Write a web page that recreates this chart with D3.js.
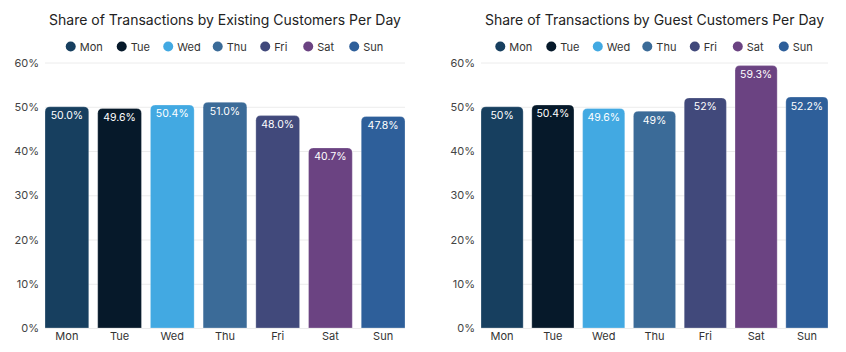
<!DOCTYPE html>
<html>
<head>
<meta charset="utf-8">
<script src="https://cdn.jsdelivr.net/npm/d3@7"></script>
<style>
  body { margin: 0; background: #fff; }
  text { font-family: Inter, "Liberation Sans", sans-serif; }
</style>
</head>
<body>
<div id="chart"></div>
<script>
var days = ["Mon", "Tue", "Wed", "Thu", "Fri", "Sat", "Sun"];
var dayColors = ["#173f5f", "#06192a", "#42a9e2", "#3b6b98", "#41497b", "#6b4382", "#2e5f9a"];
var existingShare = [50.0, 49.6, 50.4, 51.0, 48.0, 40.7, 47.8];
var guestShare = [50, 50.4, 49.6, 49, 52, 59.3, 52.2];
var yTicks = [0, 10, 20, 30, 40, 50, 60];

var w = 846;
var h = 352;

var svg = d3.select("#chart")
    .append("svg")
    .attr("width", w)
    .attr("height", h);

var color = d3.scaleOrdinal().domain(days).range(dayColors);

function drawChart(opts) {
    var g = svg.append("g");

    var xScale = d3.scaleBand()
        .domain(days)
        .range([opts.left, opts.right])
        .paddingInner(0.17)
        .paddingOuter(0);

    var yScale = d3.scaleLinear()
        .domain([0, 60])
        .range([328, 62.5]);

    // gridlines
    g.selectAll(".grid")
        .data(yTicks)
        .enter()
        .append("line")
        .attr("x1", opts.left)
        .attr("x2", opts.right)
        .attr("y1", function(d) { return yScale(d) + 0.5; })
        .attr("y2", function(d) { return yScale(d) + 0.5; })
        .attr("stroke", "#ececec")
        .attr("stroke-width", 1);

    // y axis labels
    var yAxis = d3.axisLeft(yScale)
        .tickValues(yTicks)
        .tickSize(0)
        .tickPadding(0)
        .tickFormat(function(d) { return d + "%"; });

    var ya = g.append("g")
        .attr("transform", "translate(" + opts.yLabelX + ",0)")
        .call(yAxis);
    ya.select(".domain").remove();
    ya.selectAll("text")
        .attr("font-size", "11px")
        .attr("fill", "#444")
        .style("font-family", "Inter, 'Liberation Sans', sans-serif");

    // x axis labels
    var xAxis = d3.axisBottom(xScale).tickSize(0).tickPadding(4);
    var xa = g.append("g")
        .attr("transform", "translate(0,328)")
        .call(xAxis);
    xa.select(".domain").remove();
    xa.selectAll("text")
        .attr("font-size", "11px")
        .attr("fill", "#333")
        .style("font-family", "Inter, 'Liberation Sans', sans-serif");

    // bars with rounded tops
    var r = 5;
    g.selectAll(".bar")
        .data(opts.values)
        .enter()
        .append("path")
        .attr("class", "bar")
        .attr("fill", function(d, i) { return color(days[i]); })
        .attr("stroke", "rgba(255,255,255,0.25)")
        .attr("stroke-width", 1)
        .attr("d", function(d, i) {
            var x0 = xScale(days[i]);
            var x1 = x0 + xScale.bandwidth();
            var y0 = yScale(d);
            var y1 = yScale(0);
            return "M" + x0 + "," + y1 +
                "V" + (y0 + r) +
                "Q" + x0 + "," + y0 + " " + (x0 + r) + "," + y0 +
                "H" + (x1 - r) +
                "Q" + x1 + "," + y0 + " " + x1 + "," + (y0 + r) +
                "V" + y1 + "Z";
        });

    // value labels
    g.selectAll(".val")
        .data(opts.values)
        .enter()
        .append("text")
        .attr("x", function(d, i) { return xScale(days[i]) + xScale.bandwidth() / 2; })
        .attr("y", function(d) { return yScale(d) + 12.5; })
        .attr("text-anchor", "middle")
        .attr("font-size", "10.5px")
        .attr("fill", "#fff")
        .text(function(d) { return opts.format(d) + "%"; });

    // title
    g.append("text")
        .attr("x", opts.titleX)
        .attr("y", 25)
        .attr("text-anchor", "middle")
        .attr("font-size", "14px")
        .attr("fill", "#222")
        .text(opts.title);

    // legend
    var legend = g.append("g");
    var item = legend.selectAll(".item")
        .data(days)
        .enter()
        .append("g")
        .attr("transform", function(d, i) { return "translate(" + (opts.legendX + opts.legendStep[i]) + ",46.5)"; });
    item.append("circle")
        .attr("r", 5)
        .attr("fill", function(d) { return color(d); });
    item.append("text")
        .attr("x", 9)
        .attr("y", 4)
        .attr("font-size", "11px")
        .attr("fill", "#333")
        .text(function(d) { return d; });
}

var legendOffsets = [0, 51, 97.5, 147, 194.5, 237.5, 283.5];

drawChart({
    left: 45,
    right: 405,
    yLabelX: 39,
    values: existingShare,
    format: d3.format(".1f"),
    title: "Share of Transactions by Existing Customers Per Day",
    titleX: 225,
    legendX: 70.7,
    legendStep: legendOffsets
});

drawChart({
    left: 481,
    right: 828,
    yLabelX: 475,
    values: guestShare,
    format: d3.format(".1~f"),
    title: "Share of Transactions by Guest Customers Per Day",
    titleX: 654.5,
    legendX: 500.3,
    legendStep: legendOffsets
});
</script>
</body>
</html>
